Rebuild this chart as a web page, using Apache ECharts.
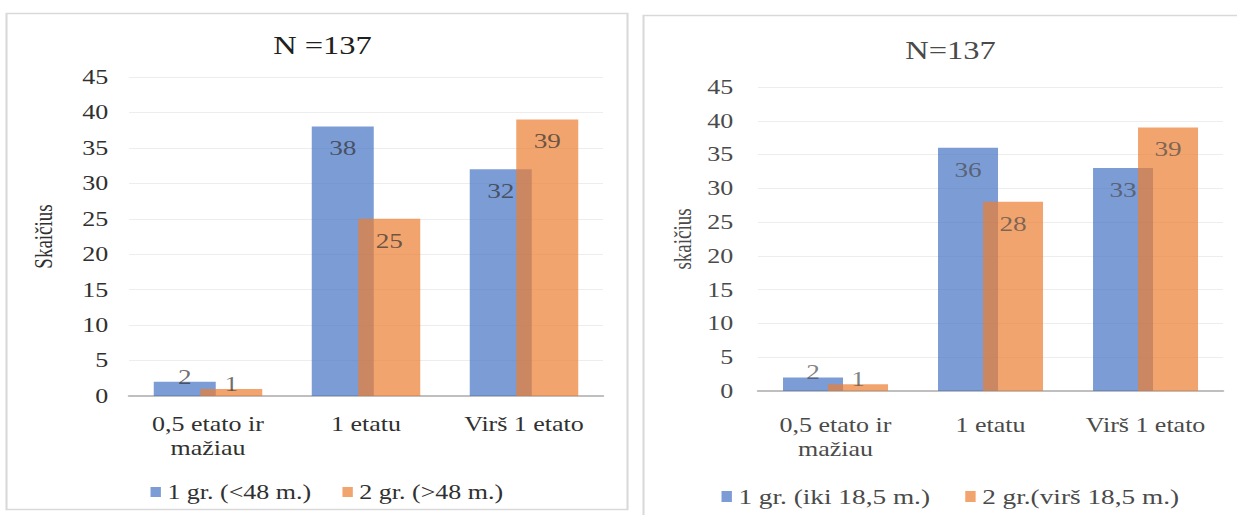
<!DOCTYPE html>
<html>
<head>
<meta charset="utf-8">
<script src="https://cdn.jsdelivr.net/npm/echarts@6/dist/echarts.min.js"></script>
<style>
  html, body { margin: 0; padding: 0; background: #ffffff; overflow: hidden; }
  /* the figure is laid out on a narrower stage and widened horizontally */
  #chart { width: 952px; height: 515px; transform: scaleX(1.2994); transform-origin: 0 0; }
</style>
</head>
<body>
<div id="chart"></div>
<script>
// Workload categories shared by both panels
const categories = ['0,5 etato ir\nmažiau', '1 etatu', 'Virš 1 etato'];
const yTicks = { min: 0, max: 45, interval: 5 };

// Left panel: grouping by 48 months
const leftTitle = 'N =137';
const leftAxisName = 'Skaičius';
const leftNames = ['1 gr. (<48 m.)', '2 gr. (>48 m.)'];
const leftGroup1 = [2, 38, 32];
const leftGroup2 = [1, 25, 39];

// Right panel: grouping by 18,5 months
const rightTitle = 'N=137';
const rightAxisName = 'skaičius';
const rightNames = ['1 gr. (iki 18,5 m.)', '2 gr.(virš 18,5 m.)'];
const rightGroup1 = [2, 36, 33];
const rightGroup2 = [1, 28, 39];

const FONT = '"Liberation Serif", "Times New Roman", serif';
const BLUE = '#4472C4';
const ORANGE = '#ED7D31';
const STRETCH = 1237 / 952;
// page x position -> stage x position
const sx = x => x / STRETCH;

function barData(values) {
  // short bars carry their label above, tall bars inside near the top
  return values.map(v => ({
    value: v,
    label: v < 5 ? { position: 'top', distance: -5 } : { position: 'insideTop', distance: 11 }
  }));
}

function barSeries(name, values, color, idx, width, textColor) {
  return {
    type: 'bar',
    name: name,
    xAxisIndex: idx,
    yAxisIndex: idx,
    data: barData(values),
    barWidth: width,
    barGap: '-25%',
    itemStyle: { color: color, opacity: 0.7 },
    label: {
      show: true,
      color: textColor,
      fontFamily: FONT,
      fontSize: 21
    },
    emphasis: { disabled: true }
  };
}

function xAxis(idx, margin, textColor) {
  return {
    type: 'category',
    gridIndex: idx,
    data: categories,
    axisLine: { lineStyle: { color: '#BFBFBF', width: 2 } },
    axisTick: { show: false },
    axisLabel: { color: textColor, fontFamily: FONT, fontSize: 20, lineHeight: 24, margin: margin, interval: 0 }
  };
}

function yAxis(idx, name, gap, margin, textColor) {
  return {
    type: 'value',
    gridIndex: idx,
    min: yTicks.min,
    max: yTicks.max,
    interval: yTicks.interval,
    name: name,
    nameLocation: 'middle',
    nameGap: gap,
    nameRotate: 90,
    nameTextStyle: { color: textColor, fontFamily: FONT, fontSize: 19 },
    axisLine: { show: false },
    axisTick: { show: false },
    axisLabel: { color: textColor, fontFamily: FONT, fontSize: 20, margin: margin },
    splitLine: { lineStyle: { color: '#EDEDED', width: 1 } }
  };
}

const LEFT_TEXT = '#303030';
const RIGHT_TEXT = '#4a4a4a';

const chart = echarts.init(document.getElementById('chart'), null, { renderer: 'svg', width: 952, height: 515 });
chart.setOption({
  backgroundColor: '#ffffff',
  animation: false,
  graphic: [
    { type: 'rect', shape: { x: sx(6.5), y: 13.5, width: sx(621), height: 496 },
      style: { fill: 'none', stroke: '#D9D9D9', lineWidth: 1.6 }, silent: true },
    { type: 'rect', shape: { x: sx(643.5), y: 15.5, width: sx(640), height: 520 },
      style: { fill: 'none', stroke: '#D9D9D9', lineWidth: 1.6 }, silent: true }
  ],
  title: [
    { text: leftTitle, left: sx(316), top: 28, textAlign: 'center',
      textStyle: { color: '#202020', fontFamily: FONT, fontSize: 25, fontWeight: 'normal' } },
    { text: rightTitle, left: sx(944), top: 33, textAlign: 'center',
      textStyle: { color: RIGHT_TEXT, fontFamily: FONT, fontSize: 25, fontWeight: 'normal' } }
  ],
  legend: [
    { data: leftNames, left: sx(144), top: 477, itemWidth: 8, itemHeight: 10, itemGap: 24, icon: 'rect',
      textStyle: { color: LEFT_TEXT, fontFamily: FONT, fontSize: 20 } },
    { data: rightNames, left: sx(715), top: 481, itemWidth: 8, itemHeight: 11, itemGap: 27, icon: 'rect',
      textStyle: { color: RIGHT_TEXT, fontFamily: FONT, fontSize: 21 } }
  ],
  grid: [
    { left: sx(129), top: 77, width: sx(474), height: 319 },
    { left: sx(758), top: 87, width: sx(465), height: 304 }
  ],
  xAxis: [xAxis(0, 16, LEFT_TEXT), xAxis(1, 22, RIGHT_TEXT)],
  yAxis: [yAxis(0, leftAxisName, sx(73), 16, LEFT_TEXT), yAxis(1, rightAxisName, sx(63), 19, RIGHT_TEXT)],
  series: [
    barSeries(leftNames[0], leftGroup1, BLUE, 0, sx(62), LEFT_TEXT),
    barSeries(leftNames[1], leftGroup2, ORANGE, 0, sx(62), LEFT_TEXT),
    barSeries(rightNames[0], rightGroup1, BLUE, 1, sx(60), RIGHT_TEXT),
    barSeries(rightNames[1], rightGroup2, ORANGE, 1, sx(60), RIGHT_TEXT)
  ]
});
</script>
</body>
</html>
